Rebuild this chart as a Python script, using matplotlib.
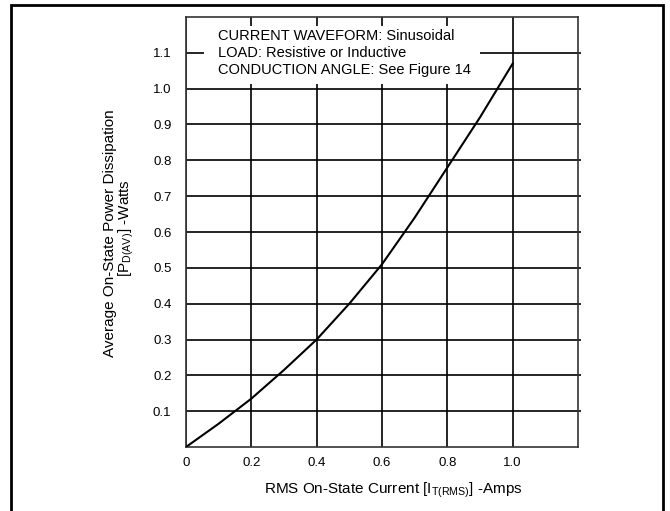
import matplotlib
matplotlib.use("Agg")
import matplotlib.pyplot as plt
from matplotlib.patches import Rectangle

# curve
i_rms = [0.0, 0.1, 0.2, 0.3, 0.4, 0.5, 0.6, 0.7, 0.8, 0.9, 1.0]
p_av = [0.0, 0.065, 0.135, 0.215, 0.30, 0.40, 0.51, 0.64, 0.78, 0.92, 1.07]

x_ticks = [0, 0.2, 0.4, 0.6, 0.8, 1.0]
x_labels = ["0", "0.2", "0.4", "0.6", "0.8", "1.0"]
y_ticks = [0.1, 0.2, 0.3, 0.4, 0.5, 0.6, 0.7, 0.8, 0.9, 1.0, 1.1]
y_labels = ["0.1", "0.2", "0.3", "0.4", "0.5", "0.6", "0.7", "0.8", "0.9", "1.0", "1.1"]

note_lines = ["CURRENT WAVEFORM: Sinusoidal",
              "LOAD: Resistive or Inductive",
              "CONDUCTION ANGLE: See Figure 14"]


def main():
    plt.rcParams['font.family'] = ['Liberation Sans', 'DejaVu Sans']
    plt.rcParams['mathtext.fontset'] = 'custom'
    plt.rcParams['mathtext.rm'] = 'Liberation Sans'

    fig = plt.figure(figsize=(6.7, 5.11), dpi=100)
    ax = fig.add_axes([186 / 670, 64 / 511, 392 / 670, 430 / 511])

    # outer frame of the figure
    fig.patches.append(Rectangle((10.5 / 670, -0.05), 652 / 670, 1.05 - 5.5 / 511,
                                 transform=fig.transFigure, fill=False,
                                 edgecolor='black', linewidth=2.0))

    ax.set_xlim(0, 1.2)
    ax.set_ylim(0, 1.2)
    ax.set_xticks(x_ticks)
    ax.set_xticklabels(x_labels)
    ax.set_yticks(y_ticks)
    ax.set_yticklabels(y_labels)
    ax.grid(True, color='black', linewidth=1.2)
    ax.set_axisbelow(True)
    for s in ax.spines.values():
        s.set_linewidth(1.2)
        s.set_color('#333333')

    ax.tick_params(axis='x', length=0, pad=7, labelsize=9.5)
    ax.tick_params(axis='y', length=0, pad=8, labelsize=9.5)
    ax.yaxis.set_tick_params(which='major', right=True, direction='out',
                             length=2.5, width=1.2)
    ax.yaxis.set_tick_params(left=False)

    ax.plot(i_rms, p_av, color='black', linewidth=1.5, zorder=3)

    # white area behind the notes
    ax.add_patch(Rectangle((0.055, 1.014), 0.845, 0.161, facecolor='white',
                           edgecolor='none', zorder=2))
    for k, line in enumerate(note_lines):
        ax.text(0.098, 1.147 - k * 0.048, line, fontsize=10.5, va='center',
                ha='left', zorder=4)

    fig.text(110 / 670, 1 - 233 / 511, "Average On-State Power Dissipation",
             rotation=90, ha='center', va='center', fontsize=11)
    fig.text(126 / 670, 1 - 228 / 511, r"[P$_{\mathregular{D(AV)}}$] -Watts",
             rotation=90, ha='center', va='center', fontsize=11)
    fig.text(393 / 670, 1 - 490 / 511,
             r"RMS On-State Current [I$_{\mathregular{T(RMS)}}$] -Amps",
             ha='center', va='center', fontsize=11)

    fig.savefig('out.png', dpi=100)


if __name__ == '__main__':
    main()
